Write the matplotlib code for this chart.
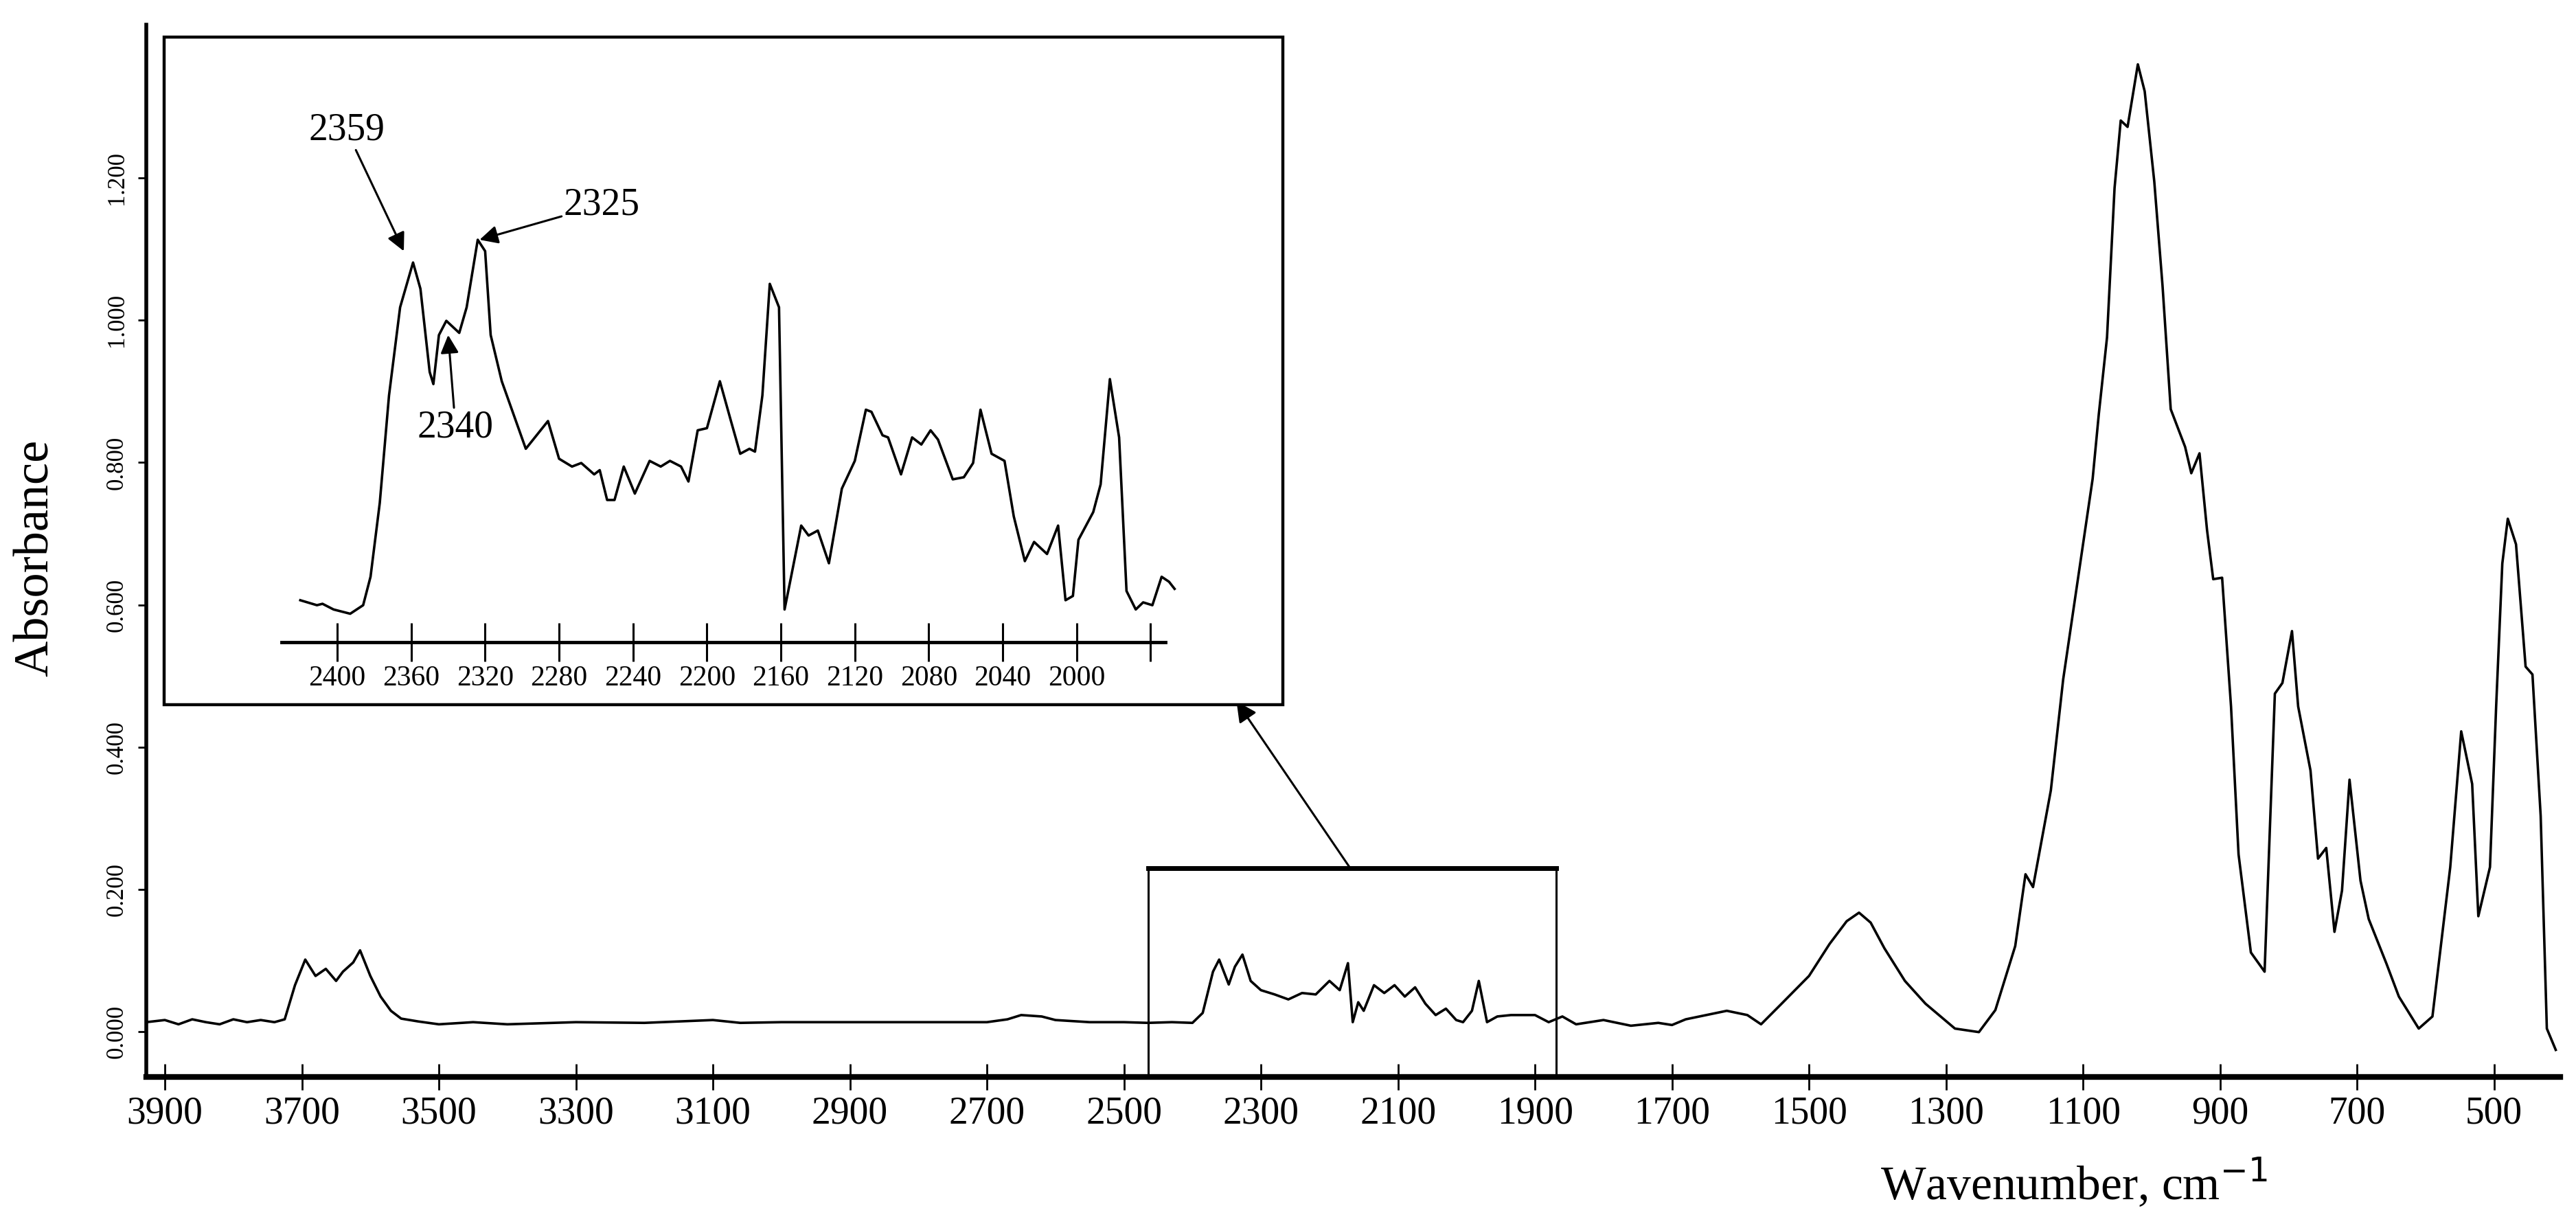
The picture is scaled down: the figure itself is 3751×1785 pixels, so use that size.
import matplotlib
matplotlib.use("Agg")
import matplotlib.pyplot as plt
from matplotlib.patches import Rectangle

plt.rcParams["font.family"] = ["Liberation Serif", "DejaVu Serif"]

# main spectrum (wavenumber cm-1, absorbance)
wn_main = [3927, 3900, 3880, 3860, 3840, 3820, 3800, 3780, 3760, 3740, 3725, 3710, 3695, 3680,
           3665, 3650, 3640, 3625, 3615, 3600, 3585, 3570, 3555, 3530, 3500, 3450, 3400,
           3300, 3200, 3100, 3060, 3000, 2900, 2800, 2700, 2670, 2650, 2620, 2600, 2550,
           2500, 2465, 2430, 2400, 2385, 2370, 2361, 2347, 2338, 2327, 2315, 2300, 2280,
           2260, 2240, 2220, 2200, 2185, 2173, 2166, 2158, 2150, 2135, 2120, 2105, 2090,
           2075, 2060, 2045, 2030, 2015, 2005, 1992, 1982, 1970, 1955, 1935, 1900, 1880,
           1860, 1840, 1800, 1760, 1720, 1700, 1680, 1650, 1620, 1590, 1570, 1540, 1500,
           1470, 1445, 1427, 1410, 1390, 1360, 1330, 1287, 1252, 1228, 1199, 1184, 1173,
           1147, 1129, 1100, 1086, 1077, 1065, 1054, 1045, 1035, 1020, 1010, 996, 984,
           972, 951, 942, 930, 919, 910, 897, 884, 873, 855, 835, 820, 809, 795, 786, 768,
           757, 745, 733, 722, 711, 695, 683, 657, 639, 610, 590, 564, 548, 532, 523, 506,
           497, 488, 480, 468, 454, 444, 432, 423, 410]
ab_main = [0.013, 0.016, 0.010, 0.017, 0.013, 0.010, 0.017, 0.013, 0.016, 0.013, 0.017, 0.065,
           0.101, 0.078, 0.088, 0.071, 0.084, 0.097, 0.114, 0.078, 0.049, 0.029, 0.018, 0.014,
           0.010, 0.013, 0.010, 0.013, 0.012, 0.016, 0.012, 0.013, 0.013, 0.013, 0.013,
           0.017, 0.023, 0.021, 0.016, 0.013, 0.013, 0.012, 0.013, 0.012, 0.026, 0.084, 0.101,
           0.066, 0.091, 0.108, 0.071, 0.058, 0.052, 0.045, 0.054, 0.052, 0.071, 0.058, 0.096,
           0.013, 0.041, 0.029, 0.065, 0.054, 0.065, 0.049, 0.062, 0.039, 0.023, 0.032, 0.016,
           0.013, 0.029, 0.071, 0.013, 0.021, 0.023, 0.023, 0.013, 0.021, 0.010, 0.016,
           0.008, 0.012, 0.009, 0.017, 0.023, 0.029, 0.023, 0.010, 0.039, 0.078, 0.123,
           0.155, 0.167, 0.153, 0.117, 0.071, 0.039, 0.004, -0.001, 0.030, 0.120, 0.221,
           0.203, 0.339, 0.495, 0.685, 0.777, 0.868, 0.976, 1.186, 1.281, 1.272, 1.360, 1.322,
           1.195, 1.049, 0.875, 0.822, 0.785, 0.813, 0.705, 0.636, 0.638, 0.457, 0.249, 0.111,
           0.084, 0.475, 0.490, 0.563, 0.457, 0.367, 0.243, 0.258, 0.140, 0.198, 0.354, 0.212,
           0.158, 0.095, 0.049, 0.004, 0.021, 0.231, 0.422, 0.348, 0.162, 0.231, 0.457, 0.658,
           0.721, 0.685, 0.513, 0.502, 0.303, 0.004, -0.026]

# enlarged 2430-1945 cm-1 region
wn_zoom = [2420, 2411, 2408, 2402, 2393, 2386, 2382, 2377, 2372, 2366, 2359, 2355, 2350, 2348,
           2345, 2341, 2334, 2330, 2324, 2320, 2317, 2311, 2298, 2286, 2280, 2273, 2268, 2261,
           2258, 2254, 2250, 2245, 2239, 2231, 2225, 2220, 2214, 2210, 2205, 2200, 2193, 2187,
           2182, 2177, 2174, 2170, 2166, 2161, 2158, 2155, 2149, 2145, 2140, 2134, 2127, 2120,
           2114, 2111, 2105, 2102, 2095, 2089, 2084, 2079, 2075, 2067, 2061, 2056, 2052, 2046,
           2039, 2034, 2028, 2023, 2016, 2010, 2006, 2002, 1999, 1991, 1987, 1982, 1977, 1973,
           1968, 1964, 1959, 1954, 1950, 1947]
ab_zoom = [0.612, 0.605, 0.607, 0.599, 0.593, 0.605, 0.645, 0.749, 0.900, 1.024, 1.087, 1.050,
           0.933, 0.916, 0.985, 1.005, 0.988, 1.024, 1.119, 1.103, 0.985, 0.920, 0.825, 0.864,
           0.811, 0.800, 0.805, 0.789, 0.795, 0.753, 0.753, 0.800, 0.762, 0.808, 0.800, 0.808,
           0.800, 0.779, 0.851, 0.854, 0.920, 0.864, 0.818, 0.825, 0.821, 0.900, 1.057, 1.024,
           0.599, 0.638, 0.717, 0.703, 0.710, 0.664, 0.769, 0.808, 0.880, 0.877, 0.844, 0.841,
           0.789, 0.841, 0.831, 0.851, 0.838, 0.782, 0.785, 0.805, 0.880, 0.818, 0.808, 0.730,
           0.667, 0.694, 0.677, 0.717, 0.612, 0.618, 0.697, 0.736, 0.775, 0.923, 0.841, 0.625,
           0.599, 0.609, 0.605, 0.645, 0.638, 0.628]

main_yticks = [0.0, 0.2, 0.4, 0.6, 0.8, 1.0, 1.2]
main_xticks = list(range(3900, 400, -200))
zoom_xticks = [2400, 2360, 2320, 2280, 2240, 2200, 2160, 2120, 2080, 2040, 2000]

fig = plt.figure(figsize=(37.51, 17.85), dpi=100)

# ---- main axes ----
ax = fig.add_axes([0.0568, 0.1216, 0.9372, 0.8584])
ax.plot(wn_main, ab_main, color="black", lw=2.6)
ax.set_xlim(3927, 403)
ax.set_ylim(-0.064, 1.416)
for s in ("top", "right"):
    ax.spines[s].set_visible(False)
ax.spines["bottom"].set_linewidth(6)
ax.spines["left"].set_linewidth(4)
ax.set_xticks(main_xticks)
ax.set_xticklabels([str(t) for t in main_xticks], fontsize=40)
ax.tick_params(axis="x", direction="inout", length=28, width=2, pad=6)
ax.set_yticks(main_yticks)
ax.set_yticklabels([f"{t:.3f}" for t in main_yticks], fontsize=25, rotation=90, va="center")
ax.tick_params(axis="y", direction="out", length=9, width=2, pad=10)

ax.text(0.014, 0.545, "Absorbance", transform=fig.transFigure, rotation=90,
        fontsize=52, ha="center", va="center")
ax.text(0.805, 0.035, "Wavenumber, cm$^{-1}$", transform=fig.transFigure,
        fontsize=50, ha="center", va="center")

# box marking the enlarged region
ax.add_patch(Rectangle((1869, -0.064), 2465 - 1869, 0.23 + 0.064, fill=False,
                       lw=2.2, ec="black", zorder=3))
ax.plot([2465, 1869], [0.23, 0.23], color="black", lw=5, zorder=3)
ax.annotate("", xy=(0.48, 0.428), xycoords="figure fraction",
            xytext=(2170, 0.23), textcoords="data",
            arrowprops=dict(arrowstyle="-|>", color="black", lw=2.2,
                            mutation_scale=45, shrinkA=0, shrinkB=0))

# inset frame
fig.patches.append(Rectangle((0.0637, 0.425), 0.498 - 0.0637, 0.970 - 0.425,
                             transform=fig.transFigure, fill=True, fc="white", lw=3.2,
                             ec="black", zorder=5))

# ---- inset ----
axi = fig.add_axes([0.1094, 0.4762, 0.348, 0.468], zorder=6)
axi.patch.set_alpha(0)
axi.plot(wn_zoom, ab_zoom, color="black", lw=2.6)
axi.set_xlim(2430, 1945)
axi.set_ylim(0.553, 1.36)
for s in ("top", "right", "left"):
    axi.spines[s].set_visible(False)
axi.spines["bottom"].set_linewidth(3.5)
axi.spines["bottom"].set_bounds(2430, 1952)
axi.set_xticks(zoom_xticks + [1960])
axi.set_xticklabels([str(t) for t in zoom_xticks] + [""], fontsize=30)
axi.tick_params(axis="x", direction="inout", length=40, width=2.2, pad=4)
axi.set_yticks([])

arrow = dict(arrowstyle="-|>", color="black", lw=2.2, mutation_scale=40,
             shrinkA=0, shrinkB=0)
axi.annotate("2359", xy=(2364, 1.103), xytext=(2395, 1.273), fontsize=40,
             ha="center", va="center", arrowprops=arrow)
axi.annotate("2325", xy=(2323, 1.119), xytext=(2257, 1.168), fontsize=40,
             ha="center", va="center", arrowprops=arrow)
axi.annotate("2340", xy=(2340, 0.985), xytext=(2336, 0.855), fontsize=40,
             ha="center", va="center", arrowprops=arrow)

fig.savefig("out.png", dpi=100)
